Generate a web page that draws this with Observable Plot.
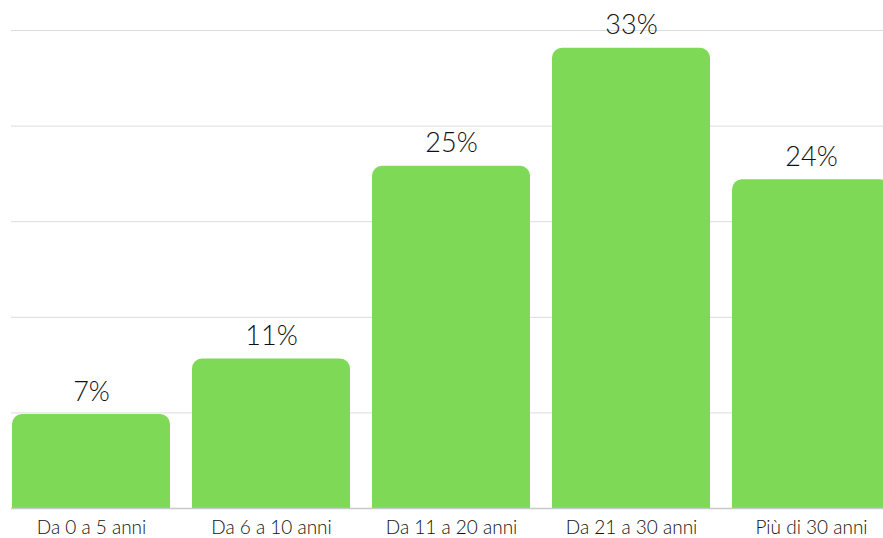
<!DOCTYPE html>
<html>
<head>
<meta charset="utf-8">
<script src="https://cdn.jsdelivr.net/npm/d3@7"></script>
<script src="https://cdn.jsdelivr.net/npm/@observablehq/plot@0.6"></script>
<style>
  html, body { margin: 0; padding: 0; background: #fff; overflow: hidden; }
  #chart { width: 883px; height: 538px; }
</style>
</head>
<body>
<div id="chart"></div>
<script>
const categories = ["Da 0 a 5 anni", "Da 6 a 10 anni", "Da 11 a 20 anni", "Da 21 a 30 anni", "Più di 30 anni"];
const values = [6.88, 10.95, 25.06, 33.7, 24.07];
const valueLabels = ["7%", "11%", "25%", "33%", "24%"];
const yTicks = [0, 7, 14, 21, 28, 35];

const data = categories.map((c, i) => ({ cat: c, v: values[i], label: valueLabels[i] }));
const font = "Lato, 'Open Sans', sans-serif";
const green = "#7ED957";

const chart = Plot.plot({
  width: 883,
  height: 538,
  marginLeft: 11,
  marginRight: -8,
  marginTop: 30,
  marginBottom: 30,
  style: { fontFamily: font, background: "#fff", overflow: "hidden" },
  x: { domain: categories, paddingInner: 0.125, paddingOuter: 0, label: null },
  y: { domain: [0, 35], axis: null },
  marks: [
    Plot.ruleY(yTicks.slice(1), { stroke: "#dcdcdc", strokeWidth: 1 }),
    Plot.barY(data, { x: "cat", y: "v", fill: green, rx: 10 }),
    Plot.barY(data, { x: "cat", y1: 0, y2: d => d.v / 2, fill: green }),
    Plot.ruleY([0], { stroke: "#c8c8c8", strokeWidth: 1.5 }),
    Plot.text(data, {
      x: "cat", y: "v", text: "label", dy: -14, lineAnchor: "bottom",
      fontSize: 27, fill: "#111", fontWeight: 300
    }),
    Plot.axisX({
      tickSize: 0, tickPadding: 12, fontSize: 19, color: "#111", fontWeight: 300,
      label: null
    })
  ]
});
document.getElementById("chart").appendChild(chart);
</script>
</body>
</html>
